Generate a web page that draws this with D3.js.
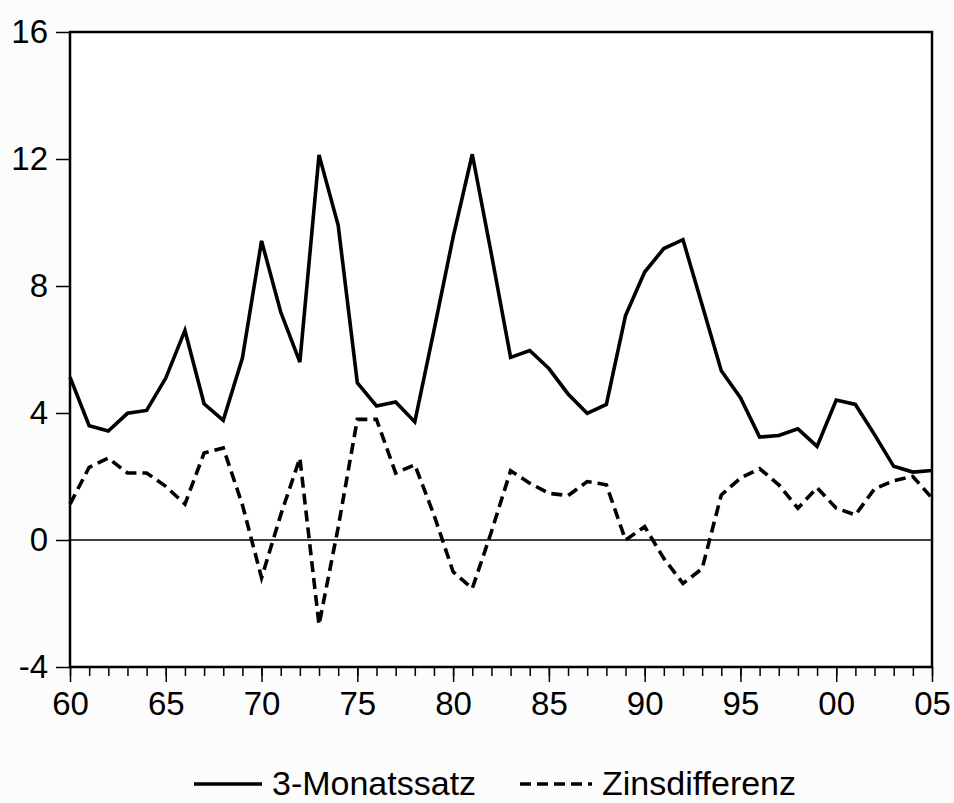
<!DOCTYPE html>
<html>
<head>
<meta charset="utf-8">
<script src="https://cdn.jsdelivr.net/npm/d3@7"></script>
<style>
  html, body { margin: 0; padding: 0; background: #fcfcfc; }
  svg { display: block; font-family: "Liberation Sans", Arial, sans-serif; }
</style>
</head>
<body>
<svg id="chart" width="954" height="803"></svg>
<script>
const years = [1960,1961,1962,1963,1964,1965,1966,1967,1968,1969,
               1970,1971,1972,1973,1974,1975,1976,1977,1978,1979,
               1980,1981,1982,1983,1984,1985,1986,1987,1988,1989,
               1990,1991,1992,1993,1994,1995,1996,1997,1998,1999,
               2000,2001,2002,2003,2004,2005];
const monatssatz = [5.13,3.60,3.43,3.99,4.08,5.10,6.60,4.29,3.77,5.73,
                    9.42,7.18,5.60,12.13,9.91,4.95,4.22,4.35,3.72,6.60,
                    9.54,12.15,9.00,5.75,5.97,5.40,4.60,3.99,4.27,7.07,
                    8.44,9.18,9.46,7.40,5.33,4.48,3.24,3.29,3.50,2.95,
                    4.41,4.27,3.32,2.32,2.14,2.19];
const zinsdifferenz = [1.13,2.29,2.58,2.11,2.11,1.69,1.13,2.74,2.90,1.11,
                       -1.19,0.79,2.58,-2.67,0.40,3.80,3.80,2.11,2.37,0.79,
                       -1.00,-1.53,0.26,2.18,1.79,1.47,1.40,1.84,1.74,0.00,
                       0.42,-0.58,-1.37,-0.90,1.42,1.95,2.25,1.74,1.00,1.65,
                       1.00,0.79,1.61,1.87,2.00,1.32];
const yTicks = [-4, 0, 4, 8, 12, 16];
const xMajorTicks = [1960,1965,1970,1975,1980,1985,1990,1995,2000,2005];
const seriesNames = ["3-Monatssatz", "Zinsdifferenz"];

const svg = d3.select("#chart");
const L = 70, R = 932, T = 32, B = 667;

const x = d3.scaleLinear().domain([1960, 2005]).range([L, R]);
const y = d3.scaleLinear().domain([-4, 16]).range([B, T]);

// plot background
svg.append("rect").attr("x", L).attr("y", T).attr("width", R - L).attr("height", B - T)
  .attr("fill", "#ffffff");

// zero line
svg.append("line").attr("x1", L).attr("x2", R).attr("y1", y(0)).attr("y2", y(0))
  .attr("stroke", "#000").attr("stroke-width", 1.3);

// lines
const line = (vals) => d3.line().x((d, i) => x(years[i])).y(d => y(d))(vals);
svg.append("path").attr("d", line(monatssatz)).attr("fill", "none")
  .attr("stroke", "#000").attr("stroke-width", 3.6).attr("stroke-linejoin", "miter");
svg.append("path").attr("d", line(zinsdifferenz)).attr("fill", "none")
  .attr("stroke", "#000").attr("stroke-width", 3.6).attr("stroke-dasharray", "11,6");

// frame
svg.append("rect").attr("x", L).attr("y", T).attr("width", R - L).attr("height", B - T)
  .attr("fill", "none").attr("stroke", "#000").attr("stroke-width", 2.5);

// Y axis
const yAxis = d3.axisLeft(y).tickValues(yTicks).tickSize(14).tickPadding(8)
  .tickFormat(d => d3.format("d")(d).replace("−", "-"));
const gy = svg.append("g").attr("transform", `translate(${L},0)`).call(yAxis);
gy.select(".domain").remove();
gy.selectAll(".tick line").attr("stroke", "#000").attr("stroke-width", 1.5);
gy.selectAll(".tick text").attr("font-size", 33).attr("fill", "#000")
  .attr("font-family", "'Liberation Sans', Arial, sans-serif");

// X axis minor ticks
const gxMinor = svg.append("g").attr("transform", `translate(0,${B})`)
  .call(d3.axisBottom(x).tickValues(years).tickSize(9).tickFormat(""));
gxMinor.select(".domain").remove();
gxMinor.selectAll(".tick line").attr("stroke", "#000").attr("stroke-width", 1.5);

// X axis major ticks
const gx = svg.append("g").attr("transform", `translate(0,${B})`)
  .call(d3.axisBottom(x).tickValues(xMajorTicks).tickSize(15).tickPadding(10)
    .tickFormat(d => String(d % 100).padStart(2, "0")));
gx.select(".domain").remove();
gx.selectAll(".tick line").attr("stroke", "#000").attr("stroke-width", 1.5);
gx.selectAll(".tick text").attr("font-size", 33).attr("fill", "#000")
  .attr("font-family", "'Liberation Sans', Arial, sans-serif");

// Legend
const legY = 784;
const leg = svg.append("g");
leg.append("line").attr("x1", 194).attr("x2", 262).attr("y1", legY).attr("y2", legY)
  .attr("stroke", "#000").attr("stroke-width", 3.6);
leg.append("text").attr("x", 272).attr("y", 795).attr("font-size", 34).attr("fill", "#000")
  .text(seriesNames[0]);
leg.append("line").attr("x1", 520).attr("x2", 592).attr("y1", legY).attr("y2", legY)
  .attr("stroke", "#000").attr("stroke-width", 3.6).attr("stroke-dasharray", "11,6");
leg.append("text").attr("x", 602).attr("y", 795).attr("font-size", 34).attr("fill", "#000")
  .text(seriesNames[1]);
</script>
</body>
</html>
